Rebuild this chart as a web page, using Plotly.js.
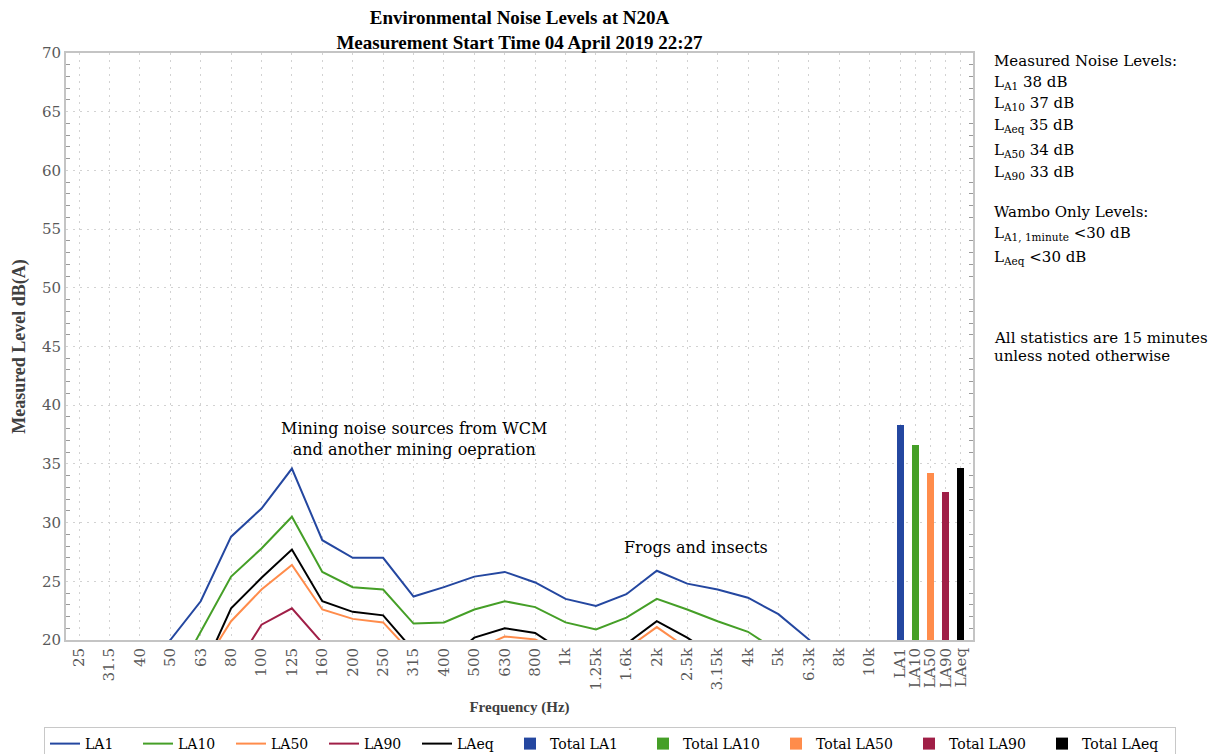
<!DOCTYPE html>
<html>
<head>
<meta charset="utf-8">
<script src="https://cdn.plot.ly/plotly-3.0.1.min.js"></script>
<style>html,body{margin:0;padding:0;background:#fff;}#chart{width:1216px;height:754px;}</style>
</head>
<body>
<div id="chart"></div>
<script>
const freqLabels = ['25','31.5','40','50','63','80','100','125','160','200','250','315','400','500','630','800','1k','1.25k','1.6k','2k','2.5k','3.15k','4k','5k','6.3k','8k','10k'];

const LA1  = [15.5,16.0,17.2,20.0,23.3,28.8,31.2,34.6,28.5,27.0,27.0,23.7,24.5,25.4,25.8,24.9,23.5,22.9,23.9,25.9,24.8,24.3,23.6,22.2,20.05,17.5,15.0];
const LA10 = [13.5,14.0,15.0,16.0,20.7,25.4,27.8,30.5,25.8,24.5,24.3,21.4,21.5,22.6,23.3,22.8,21.5,20.9,21.9,23.5,22.6,21.6,20.7,19.0,17.0,15.0,13.0];
const LA50 = [11.5,12.0,13.0,14.5,17.5,21.6,24.3,26.4,22.6,21.8,21.5,18.7,18.5,19.15,20.3,20.05,18.8,18.3,19.24,21.1,19.3,18.5,17.5,16.0,14.0,12.0,10.0];
const LA90 = [10.0,11.0,12.0,13.5,15.5,17.2,21.3,22.7,19.75,18.5,18.0,16.5,16.8,17.2,17.6,17.3,16.5,16.0,16.8,18.2,17.2,16.2,15.0,13.5,12.0,10.5,9.0];
const LAeq = [12.5,13.0,14.0,15.0,17.0,22.7,25.3,27.7,23.3,22.4,22.1,19.1,18.0,20.2,21.0,20.6,18.9,18.6,19.67,21.6,20.2,18.5,17.8,16.5,15.0,13.5,12.0];

const totalLabels = ['LA1','LA10','LA50','LA90','LAeq'];
const totalValues = [38.3,36.6,34.2,32.6,34.65];

const seriesNames = ['LA1','LA10','LA50','LA90','LAeq'];
const seriesData = [LA1, LA10, LA50, LA90, LAeq];
const colors = ['#2447A0','#459F27','#FF8C4B','#A01F47','#000000'];

const serif = 'DejaVu Serif, serif';
const serifB = 'Liberation Serif, Times New Roman, serif';

const lineX = freqLabels.map((_, i) => i);
const barX = totalLabels.map((_, i) => freqLabels.length + 0.5 * i);

const traces = [];
seriesNames.forEach((name, k) => {
  traces.push({
    type: 'scatter', mode: 'lines', name: name,
    x: lineX, y: seriesData[k],
    line: {color: colors[k], width: 2},
    legendwidth: 48
  });
});
totalLabels.forEach((lab, k) => {
  traces.push({
    type: 'bar', name: 'Total ' + lab,
    x: [barX[k]], y: [totalValues[k]],
    width: 0.23,
    marker: {color: colors[k], line: {width: 0}},
    legendwidth: 88
  });
});

const plotTop = 53, plotBot = 640, plotH = plotBot - plotTop;
const plotL = 66, plotR = 973, plotW = plotR - plotL;
const py = (px) => (plotBot - px) / plotH;
const textX = (992 - plotL) / plotW;

const sideLines = [
  ['Measured Noise Levels:', 61],
  ['L<sub>A1</sub> 38 dB', 82],
  ['L<sub>A10</sub> 37 dB', 104],
  ['L<sub>Aeq</sub> 35 dB', 126],
  ['L<sub>A50</sub> 34 dB', 150],
  ['L<sub>A90</sub> 33 dB', 172],
  ['Wambo Only Levels:', 212],
  ['L<sub>A1, 1minute</sub> &lt;30 dB', 233],
  ['L<sub>Aeq</sub> &lt;30 dB', 257],
  ['All statistics are 15 minutes', 338],
  ['unless noted otherwise', 356]
];

const annotations = sideLines.map(([t, y]) => ({
  xref: 'paper', yref: 'paper', x: textX, y: py(y),
  xanchor: 'left', yanchor: 'middle', showarrow: false,
  text: t, font: {family: serif, size: 15, color: '#000'}
}));

annotations.push({
  xref: 'x', yref: 'y', x: 11, y: 37.1, showarrow: false,
  text: 'Mining noise sources from WCM<br>and another mining oepration',
  font: {family: serif, size: 16, color: '#000'}, align: 'center'
});
annotations.push({
  xref: 'x', yref: 'y', x: 20.3, y: 27.85, showarrow: false,
  text: 'Frogs and insects',
  font: {family: serif, size: 16, color: '#000'}
});

const layout = {
  width: 1216, height: 754,
  margin: {l: 66, r: 243, t: 53, b: 114, autoexpand: false},
  paper_bgcolor: '#fff', plot_bgcolor: '#fff',
  font: {family: serif, color: '#595959', size: 15},
  title: {
    text: '<b>Environmental Noise Levels at N20A<br>Measurement Start Time 04 April 2019 22:27</b>',
    font: {family: serifB, size: 19, color: '#000'},
    xref: 'paper', x: 0.5, xanchor: 'center',
    yref: 'paper', y: 1, yanchor: 'bottom', pad: {b: 29}
  },
  showlegend: true,
  legend: {
    orientation: 'h', xref: 'paper', yref: 'paper',
    x: (1176 - plotL) / plotW, xanchor: 'right', y: py(727), yanchor: 'top',
    bordercolor: '#c8c8c8', borderwidth: 1,
    font: {family: serif, size: 14, color: '#000'},
    itemwidth: 30, traceorder: 'normal'
  },
  bargap: 0,
  xaxis: {
    type: 'linear', range: [-0.43, 29.4],
    tickmode: 'array',
    tickvals: lineX.concat(barX),
    ticktext: freqLabels.concat(totalLabels),
    tickangle: -90,
    tickfont: {family: serif, size: 15, color: '#595959'},
    showgrid: true, gridcolor: '#d2d2d2', griddash: '2px,5px', gridwidth: 1,
    showline: true, linecolor: '#c4c4c4', linewidth: 2, mirror: true,
    ticks: '', zeroline: false,
    title: {text: '<b>Frequency (Hz)</b>', font: {family: serifB, size: 15, color: '#404040'}, standoff: 12}
  },
  yaxis: {
    range: [20, 70], dtick: 5, tick0: 20,
    tickfont: {family: serif, size: 15, color: '#595959'},
    showgrid: true, gridcolor: '#d2d2d2', griddash: '2px,5px', gridwidth: 1,
    showline: true, linecolor: '#c4c4c4', linewidth: 2, mirror: 'allticks',
    ticks: '', zeroline: false,
    minor: {dtick: 1, ticks: 'inside', ticklen: 4, tickcolor: '#9a9a9a', tickwidth: 1, showgrid: false},
    title: {text: '<b>Measured Level dB(A)</b>', font: {family: serifB, size: 18, color: '#404040'}, standoff: 12}
  },
  annotations: annotations
};

Plotly.newPlot('chart', traces, layout, {displayModeBar: false, staticPlot: true});
</script>
</body>
</html>
